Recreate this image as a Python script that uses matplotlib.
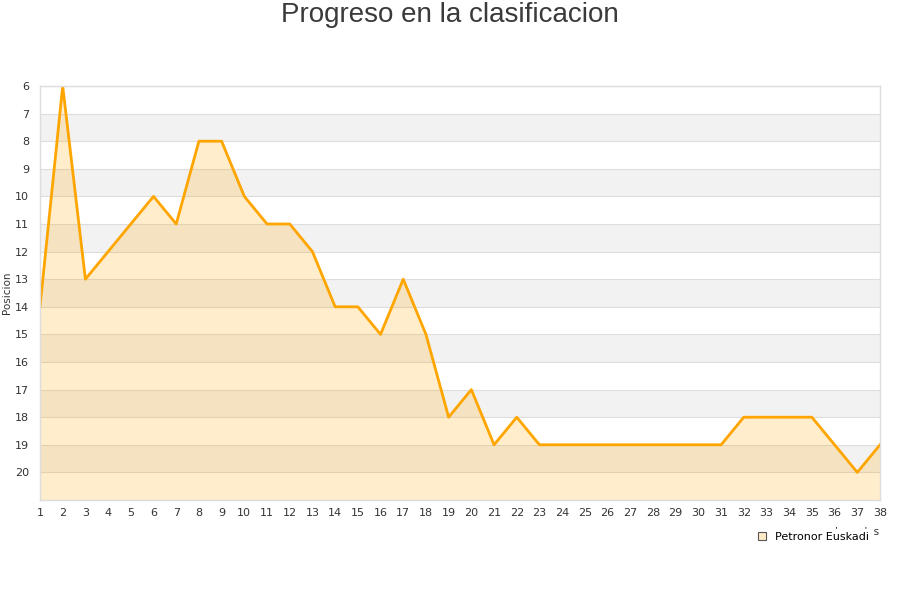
import matplotlib
matplotlib.use("Agg")
import matplotlib.pyplot as plt
from matplotlib.lines import Line2D

jornadas = list(range(1, 39))
posiciones = [14, 6, 13, 12, 11, 10, 11, 8, 8, 10, 11, 11, 12, 14, 14, 15, 13, 15,
              18, 17, 19, 18, 19, 19, 19, 19, 19, 19, 19, 19, 19, 18, 18, 18, 18, 19, 20, 19]
team = "Petronor Euskadi"
title = "Progreso en la clasificacion"
ylabel = "Posicion"
xlabel = "Jornadas"

fig = plt.figure(figsize=(9, 6), dpi=100)
ax = fig.add_axes([40/900, 1-500/600, 840/900, 414/600])

ymin, ymax = 6, 21
ax.set_xlim(1, 38)
ax.set_ylim(ymax, ymin)

# alternating bands
for y in range(ymin, ymax):
    if (y - ymin) % 2 == 1:
        ax.axhspan(y, y + 1, color="#f2f2f2", zorder=0, lw=0)
for y in range(ymin, ymax + 1):
    ax.axhline(y, color="#dddddd", lw=0.8, zorder=0.5)

ax.fill_between(jornadas, posiciones, ymax, color="orange", alpha=0.2, lw=0, zorder=1)
ax.plot(jornadas, posiciones, color="#FFA500", lw=2, zorder=2)

ax.set_yticks(range(ymin, 21))
ax.set_xticks(jornadas)
ax.tick_params(axis="both", length=0, labelsize=8, labelcolor="#333333")
ax.tick_params(axis="x", pad=6)
ax.tick_params(axis="y", pad=8)
for s in ax.spines.values():
    s.set_color("#dddddd")
    s.set_linewidth(1)

ax.set_ylabel(ylabel, fontsize=7.5, color="#333333", labelpad=2)
fig.text(880/900, 1-532/600, xlabel, fontsize=7.5, color="#333333", ha="right", va="center")

fig.text(0.5, 1-15/600, title, fontsize=20, color="#3a3a3a", ha="center", va="center",
         family="Liberation Sans")

handle = Line2D([], [], marker="s", linestyle="none", markersize=6,
                markerfacecolor="#FFEBC6", markeredgecolor="#555555", markeredgewidth=0.8)
leg = fig.legend([handle], [team], loc="center right", bbox_to_anchor=(872/900, 1-537/600),
                 frameon=True, fontsize=8, handletextpad=0.6, borderpad=0.3,
                 handlelength=1.0, borderaxespad=0)
leg.get_frame().set_facecolor("white")
leg.get_frame().set_edgecolor("white")
leg.get_frame().set_alpha(1)
leg.set_zorder(10)

fig.savefig("out.png", dpi=100)
